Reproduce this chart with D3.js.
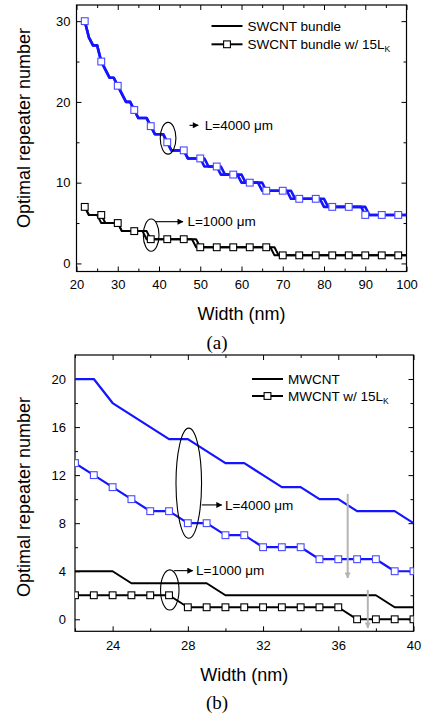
<!DOCTYPE html>
<html>
<head>
<meta charset="utf-8">
<script src="https://cdn.jsdelivr.net/npm/d3@7"></script>
<style>
  body { margin: 0; background: #fff; }
  svg { display: block; }
  text { font-family: "Liberation Sans", Arial, sans-serif; fill: #000; }
</style>
</head>
<body>
<div class="chart"></div>
<script>
// --- data (a): SWCNT bundle, width 22..100 nm, 1 nm step
const widthsA = d3.range(22, 101);
const swcnt4000 = [
  30,28,27,27,25,24,23,23,22,21,
  20,20,19,18,18,18,17,16,16,16,
  15,14,14,14,14,13,13,13,13,12,
  12,12,12,11,11,11,11,11,10,10,
  10,10,10,9,9,9,9,9,9,9,
  9,8,8,8,8,8,8,8,8,7,
  7,7,7,7,7,7,7,7,7,6,
  6,6,6,6,6,6,6,6,6];
const swcnt4000Lk = [
  30,28,27,27,25,24,23,23,22,21,
  20,20,19,18,18,18,17,16,16,16,
  15,14,14,14,14,13,13,13,13,13,
  12,12,12,12,11,11,11,11,11,10,
  10,10,10,10,9,9,9,9,9,9,
  8,8,8,8,8,8,8,8,7,7,
  7,7,7,7,7,7,7,7,6,6,
  6,6,6,6,6,6,6,6,6];
const swcnt1000 = [
  7,6,6,6,5,5,5,5,5,4,
  4,4,4,4,4,3,3,3,3,3,
  3,3,3,3,3,3,3,2,2,2,
  2,2,2,2,2,2,2,2,2,2,
  2,2,2,2,2,2,1,1,1,1,
  1,1,1,1,1,1,1,1,1,1,
  1,1,1,1,1,1,1,1,1,1,
  1,1,1,1,1,1,1,1,1];
const swcnt1000Lk = [
  7,6,6,6,6,5,5,5,5,4,
  4,4,4,4,4,4,3,3,3,3,
  3,3,3,3,3,3,3,3,2,2,
  2,2,2,2,2,2,2,2,2,2,
  2,2,2,2,2,2,2,1,1,1,
  1,1,1,1,1,1,1,1,1,1,
  1,1,1,1,1,1,1,1,1,1,
  1,1,1,1,1,1,1,1,1];

// --- data (b): MWCNT, width 22..40 nm
const widthsB = [22,23,24,25,26,27,28,29,30,31,32,33,34,35,36,37,38,39,40];
const mwcnt4000   = [20,20,18,17,16,15,15,14,13,13,12,11,11,10,10,9,9,9,8];
const mwcnt4000Lk = [13,12,11,10,9,9,8,8,7,7,6,6,6,5,5,5,5,4,4];
const mwcnt1000   = [4,4,4,3,3,3,3,3,2,2,2,2,2,2,2,2,2,1,1];
const mwcnt1000Lk = [2,2,2,2,2,2,1,1,1,1,1,1,1,1,1,0,0,0,0];

// tick values
const xMajorA = [20,30,40,50,60,70,80,90,100];
const xMinorA = [25,35,45,55,65,75,85,95];
const yMajorA = [0,10,20,30];
const yMinorA = [5,15,25];
const xMajorB = [24,28,32,36,40];
const xMinorB = [22,26,30,34,38];
const yMajorB = [0,4,8,12,16,20];
const yMinorB = [2,6,10,14,18];

const blue = '#1414ff';
const blueMark = '#4a4aff';

const svg = d3.select('.chart').append('svg')
  .attr('width', 425)
  .attr('height', 716)
  .style('background-color', '#fff');

const defs = svg.append('defs');
function arrowHead(id, color) {
  defs.append('marker')
    .attr('id', id)
    .attr('viewBox', '0 0 10 10')
    .attr('refX', 9).attr('refY', 5)
    .attr('markerWidth', 7).attr('markerHeight', 6)
    .attr('markerUnits', 'userSpaceOnUse')
    .attr('orient', 'auto')
    .append('path').attr('d', 'M0,0 L10,5 L0,10 Z').attr('fill', color);
}
arrowHead('arrBlack', '#000');
arrowHead('arrGray', '#b4b4b4');

function drawPanel(p) {
  const g = svg.append('g');
  const x = d3.scaleLinear().domain(p.xDomain).range([p.left, p.right]);
  const y = d3.scaleLinear().domain(p.yDomain).range([p.bottom, p.top]);

  defs.append('clipPath').attr('id', 'clip' + p.id)
    .append('rect')
    .attr('x', p.left).attr('y', p.top)
    .attr('width', p.right - p.left).attr('height', p.bottom - p.top);

  // axes, ticks inward on all four sides
  const axes = [
    [d3.axisBottom(x), `translate(0,${p.bottom})`, p.xMajor, p.xMinor, true],
    [d3.axisTop(x), `translate(0,${p.top})`, p.xMajor, p.xMinor, false],
    [d3.axisLeft(y), `translate(${p.left},0)`, p.yMajor, p.yMinor, true],
    [d3.axisRight(y), `translate(${p.right},0)`, p.yMajor, p.yMinor, false]
  ];
  axes.forEach(([ax, tr, major, minor, labels], i) => {
    const pad = i === 0 ? p.xPad : p.yPad;
    g.append('g').attr('transform', tr)
      .call(ax.tickValues(major).tickSize(-5).tickPadding(pad)
        .tickFormat(labels ? d3.format('d') : ''))
      .call(a => a.select('.domain').remove())
      .call(a => a.selectAll('text').style('font-size', '13px')
        .style('font-family', '"Liberation Sans", Arial, sans-serif'));
    g.append('g').attr('transform', tr)
      .call(ax.tickValues(minor).tickSize(-3).tickFormat(''))
      .call(a => a.select('.domain').remove());
  });

  g.append('rect')
    .attr('x', p.left).attr('y', p.top)
    .attr('width', p.right - p.left).attr('height', p.bottom - p.top)
    .attr('fill', 'none').attr('stroke', '#000').attr('stroke-width', 1.2);

  // series
  const plot = g.append('g').attr('clip-path', `url(#clip${p.id})`);
  const line = d3.line().x(d => x(d[0])).y(d => y(d[1]));
  p.series.forEach(s => {
    const pts = p.widths.map((w, i) => [w, s.values[i]]);
    plot.append('path')
      .attr('d', line(pts))
      .attr('fill', 'none')
      .attr('stroke', s.color)
      .attr('stroke-width', s.width)
      .attr('stroke-linejoin', 'round');
  });
  p.series.filter(s => s.markEvery).forEach(s => {
    const pts = p.widths.map((w, i) => [w, s.values[i]])
      .filter((d, i) => i % s.markEvery === 0);
    plot.selectAll(null).data(pts).join('rect')
      .attr('x', d => x(d[0]) - 3.4).attr('y', d => y(d[1]) - 3.4)
      .attr('width', 6.8).attr('height', 6.8)
      .attr('fill', '#fff')
      .attr('stroke', s.markColor)
      .attr('stroke-width', 1.1);
  });

  // annotations: ellipse + arrow + label
  p.notes.forEach(n => {
    g.append('ellipse')
      .attr('cx', x(n.ellipse[0])).attr('cy', y(n.ellipse[1]))
      .attr('rx', x(n.ellipse[0] + n.ellipse[2]) - x(n.ellipse[0]))
      .attr('ry', y(n.ellipse[1]) - y(n.ellipse[1] + n.ellipse[3]))
      .attr('fill', 'none').attr('stroke', '#000').attr('stroke-width', 1.1);
    g.append('line')
      .attr('x1', x(n.arrow[0])).attr('y1', y(n.arrow[1]))
      .attr('x2', x(n.arrow[2])).attr('y2', y(n.arrow[1]))
      .attr('stroke', '#000').attr('stroke-width', 1.1)
      .attr('marker-end', 'url(#arrBlack)');
    g.append('text')
      .attr('x', x(n.labelX)).attr('y', y(n.arrow[1]))
      .attr('dy', '0.35em')
      .style('font-size', '13.5px')
      .text(n.label);
  });
  (p.grayArrows || []).forEach(a => {
    g.append('line')
      .attr('x1', x(a[0])).attr('y1', y(a[1]))
      .attr('x2', x(a[0])).attr('y2', y(a[2]))
      .attr('stroke', '#b4b4b4').attr('stroke-width', 2)
      .attr('marker-end', 'url(#arrGray)');
  });

  // legend
  p.legend.forEach((l, i) => {
    const ly = p.legendY + i * p.legendGap;
    g.append('line')
      .attr('x1', p.legendX).attr('x2', p.legendX + 31)
      .attr('y1', ly).attr('y2', ly)
      .attr('stroke', '#000').attr('stroke-width', 2);
    if (l.mark) {
      g.append('rect')
        .attr('x', p.legendX + 15.5 - 3.4).attr('y', ly - 3.4)
        .attr('width', 6.8).attr('height', 6.8)
        .attr('fill', '#fff').attr('stroke', '#000').attr('stroke-width', 1.1);
    }
    const t = g.append('text')
      .attr('x', p.legendX + 36).attr('y', ly)
      .attr('dy', '0.35em')
      .style('font-size', '13.5px')
      .text(l.text);
    if (l.sub) {
      t.append('tspan').attr('baseline-shift', '-30%')
        .style('font-size', '8.5px').text(l.sub);
    }
  });

  // titles
  g.append('text')
    .attr('x', (p.left + p.right) / 2).attr('y', p.xTitleY)
    .attr('text-anchor', 'middle')
    .style('font-size', '18px')
    .text('Width (nm)');
  g.append('text')
    .attr('transform', `translate(30,${p.yTitleY}) rotate(-90)`)
    .attr('text-anchor', 'middle')
    .style('font-size', '18px')
    .text('Optimal repeater number');
  g.append('text')
    .attr('x', 217).attr('y', p.tagY)
    .attr('text-anchor', 'middle')
    .style('font-family', '"Liberation Serif", "Times New Roman", serif')
    .style('font-size', '19px')
    .text(p.tag);
}

drawPanel({
  id: 'A',
  left: 76.5, right: 406.5, top: 5, bottom: 271.5,
  xDomain: [20, 100], yDomain: [-1, 32],
  xMajor: xMajorA, xMinor: xMinorA, yMajor: yMajorA, yMinor: yMinorA,
  xPad: 8, yPad: 6,
  widths: widthsA,
  series: [
    { values: swcnt4000, color: blue, width: 2.6 },
    { values: swcnt4000Lk, color: blue, width: 2.6, markEvery: 4, markColor: blueMark },
    { values: swcnt1000, color: '#000', width: 2 },
    { values: swcnt1000Lk, color: '#000', width: 2, markEvery: 4, markColor: '#000' }
  ],
  notes: [
    { label: 'L=4000 \u03bcm', ellipse: [42.2, 15.5, 1.9, 1.96], arrow: [47.4, 17.1, 49.5], labelX: 51.1 },
    { label: 'L=1000 \u03bcm', ellipse: [38.1, 3.5, 1.9, 2.0], arrow: [39.2, 5.17, 45.8], labelX: 46.9 }
  ],
  legend: [
    { text: 'SWCNT bundle' },
    { text: 'SWCNT bundle w/ 15L', sub: 'K', mark: true }
  ],
  legendX: 211.5, legendY: 26, legendGap: 18.3,
  xTitleY: 320, yTitleY: 128, tagY: 349, tag: '(a)'
});

drawPanel({
  id: 'B',
  left: 75, right: 413.5, top: 355, bottom: 631.3,
  xDomain: [22, 40], yDomain: [-1, 22],
  xMajor: xMajorB, xMinor: xMinorB, yMajor: yMajorB, yMinor: yMinorB,
  xPad: 9, yPad: 9,
  widths: widthsB,
  series: [
    { values: mwcnt4000, color: blue, width: 2.2 },
    { values: mwcnt4000Lk, color: blue, width: 2.2, markEvery: 1, markColor: blueMark },
    { values: mwcnt1000, color: '#000', width: 2 },
    { values: mwcnt1000Lk, color: '#000', width: 2, markEvery: 1, markColor: '#000' }
  ],
  notes: [
    { label: 'L=4000 \u03bcm', ellipse: [28.05, 11.33, 0.68, 4.58], arrow: [28.74, 9.52, 29.8], labelX: 29.98 },
    { label: 'L=1000 \u03bcm', ellipse: [27.04, 2.44, 0.49, 1.67], arrow: [27.27, 4.05, 28.26], labelX: 28.44 }
  ],
  grayArrows: [[36.5, 10.44, 3.44], [37.57, 2.44, -0.72]],
  legend: [
    { text: 'MWCNT' },
    { text: 'MWCNT w/ 15L', sub: 'K', mark: true }
  ],
  legendX: 252, legendY: 379, legendGap: 17,
  xTitleY: 681, yTitleY: 497, tagY: 709, tag: '(b)'
});
</script>
</body>
</html>
